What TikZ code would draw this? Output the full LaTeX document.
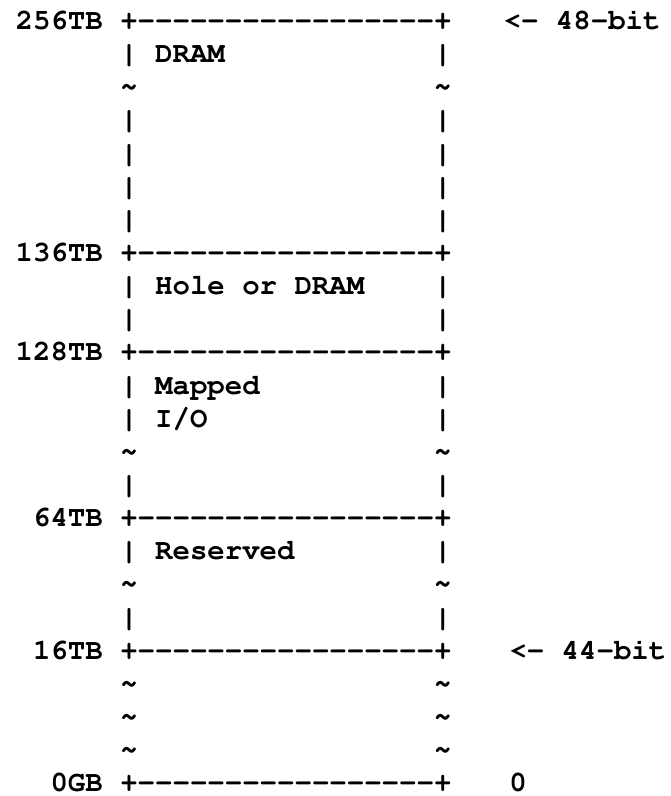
\documentclass[tikz,border=0pt]{standalone}
\usepackage[T1]{fontenc}
\renewcommand{\ttdefault}{pcr}
\usepackage{tikz}
\newcommand{\edgeline}{+-{}-{}-{}-{}-{}-{}-{}-{}-{}-{}-{}-{}-{}-{}-{}-{}-+}

\begin{document}
\begin{tikzpicture}[x=17.43pt,y=-33.14pt,
  ascii/.style={anchor=base west,inner sep=0pt,outer sep=0pt,
    font=\fontsize{29.05}{33}\selectfont\ttfamily\bfseries}]
\useasboundingbox (-0.901,-0.89) rectangle (37.54,23.13);
% addresses on the left
\node[ascii] (a256) at (0,0) {256TB};
\node[ascii] (a136) at (0,7) {136TB};
\node[ascii] (a128) at (0,10) {128TB};
\node[ascii] (a64) at (1,15) {64TB};
\node[ascii] (a16) at (1,19) {16TB};
\node[ascii] (a0) at (2,23) {0GB};
% region borders
\foreach \r in {0,7,10,15,19,23}
  \node[ascii] (edge\r) at (6,\r) {\edgeline};
% side walls
\foreach \r in {1,3,4,5,6,8,9,11,12,14,16,18} {
  \node[ascii] (lwall\r) at (6,\r) {|};
  \node[ascii] (rwall\r) at (24,\r) {|};
}
\foreach \r in {2,13,17,20,21,22} {
  \node[ascii] (lgap\r) at (6,\r) {\textasciitilde};
  \node[ascii] (rgap\r) at (24,\r) {\textasciitilde};
}
% region names
\node[ascii] (dram) at (8,1) {DRAM};
\node[ascii] (hole) at (8,8) {Hole or DRAM};
\node[ascii] (mapped) at (8,11) {Mapped};
\node[ascii] (io) at (8,12) {I/O};
\node[ascii] (resv) at (8,16) {Reserved};
% address widths on the right
\node[ascii] (bit48) at (28,0) {<- 48-bit};
\node[ascii] (bit44) at (28.33,19) {<- 44-bit};
\node[ascii] (zero) at (28.33,23) {0};
\end{tikzpicture}
\end{document}
